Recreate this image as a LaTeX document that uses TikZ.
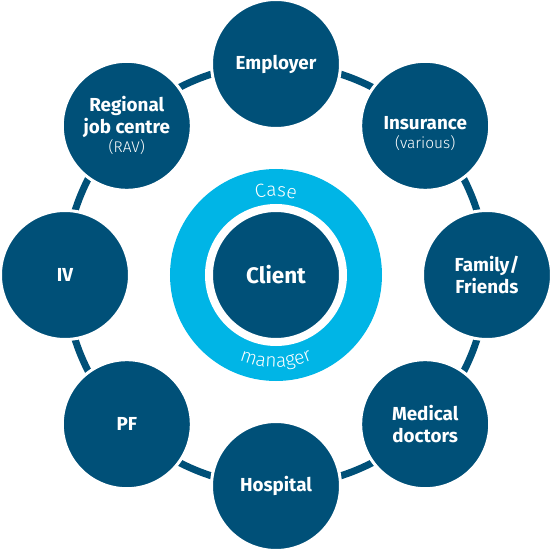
\documentclass[tikz,border=0pt]{standalone}
\usepackage{fontspec}
\setmainfont{Fira Sans}
\newfontfamily\thinfont{Fira Sans Light}
\usetikzlibrary{backgrounds,decorations.text}
\definecolor{netblue}{RGB}{0,80,120}
\definecolor{caseblue}{RGB}{0,181,230}
\newcommand{\subtext}[1]{{\thinfont\mdseries\fontsize{11}{12}\selectfont #1}}

\begin{document}
\begin{tikzpicture}[
		party/.style={circle, fill=netblue, draw=white, line width=0.075cm, minimum size=3.225cm, inner sep=0pt},
		partytext/.style={text=white, align=center, font=\bfseries\fontsize{13.4}{15.6}\selectfont},
		link/.style={draw=netblue, line width=0.175cm},
		casetext/.style={decorate, decoration={text along path, text align=center, text color=white,
			text={|\thinfont\mdseries\fontsize{13.6}{15}\selectfont|#1}}}
	]
	\useasboundingbox (-6.9, -6.925) rectangle (6.9, 6.875);

	% case manager and client
	\node[circle, fill=caseblue, minimum size=5.3cm, inner sep=0pt] (case) at (0, 0) {};
	\node[party, line width=0.2cm, minimum size=3.35cm] (client) at (0, 0) {};
	\node[partytext, font=\bfseries\fontsize{16}{19}\selectfont] (clienttext) at (client.center) {Client};
	\path[casetext=Case] (case.center) ++(125:1.96) arc[start angle=125, end angle=55, radius=1.96];
	\path[casetext=manager] (case.center) ++(210:2.31) arc[start angle=210, end angle=330, radius=2.31];

	% network around the client
	\node[party] (employer) at (90:5.275) {};
		\node[partytext] (employertext) at (employer.center) {Employer};
	\node[party] (insurance) at (45:5.275) {};
		\node[partytext] (insurancetext) at ([yshift=-0.2cm]insurance.center) {Insurance\\[-2pt]\subtext{(various)}};
	\node[party] (family) at (0:5.275) {};
		\node[partytext] (familytext) at (family.center) {Family/\\Friends};
	\node[party] (medical) at (-45:5.275) {};
		\node[partytext] (medicaltext) at (medical.center) {Medical\\doctors};
	\node[party] (hospital) at (-90:5.275) {};
		\node[partytext] (hospitaltext) at (hospital.center) {Hospital};
	\node[party] (pf) at (-135:5.275) {};
		\node[partytext] (pftext) at (pf.center) {PF};
	\node[party] (iv) at (180:5.275) {};
		\node[partytext] (ivtext) at (iv.center) {IV};
	\node[party] (regional) at (135:5.275) {};
		\node[partytext] (regionaltext) at (regional.center) {Regional\\job centre\\[-2pt]\subtext{(RAV)}};

	\begin{scope}[on background layer]
		\foreach \from/\ang in {employer/90, insurance/45, family/0, medical/-45, hospital/-90, pf/-135, iv/-180, regional/-225}
			\draw[link] (\from.center) arc[start angle=\ang, end angle=\ang-45, radius=5.275];
	\end{scope}
\end{tikzpicture}
\end{document}
